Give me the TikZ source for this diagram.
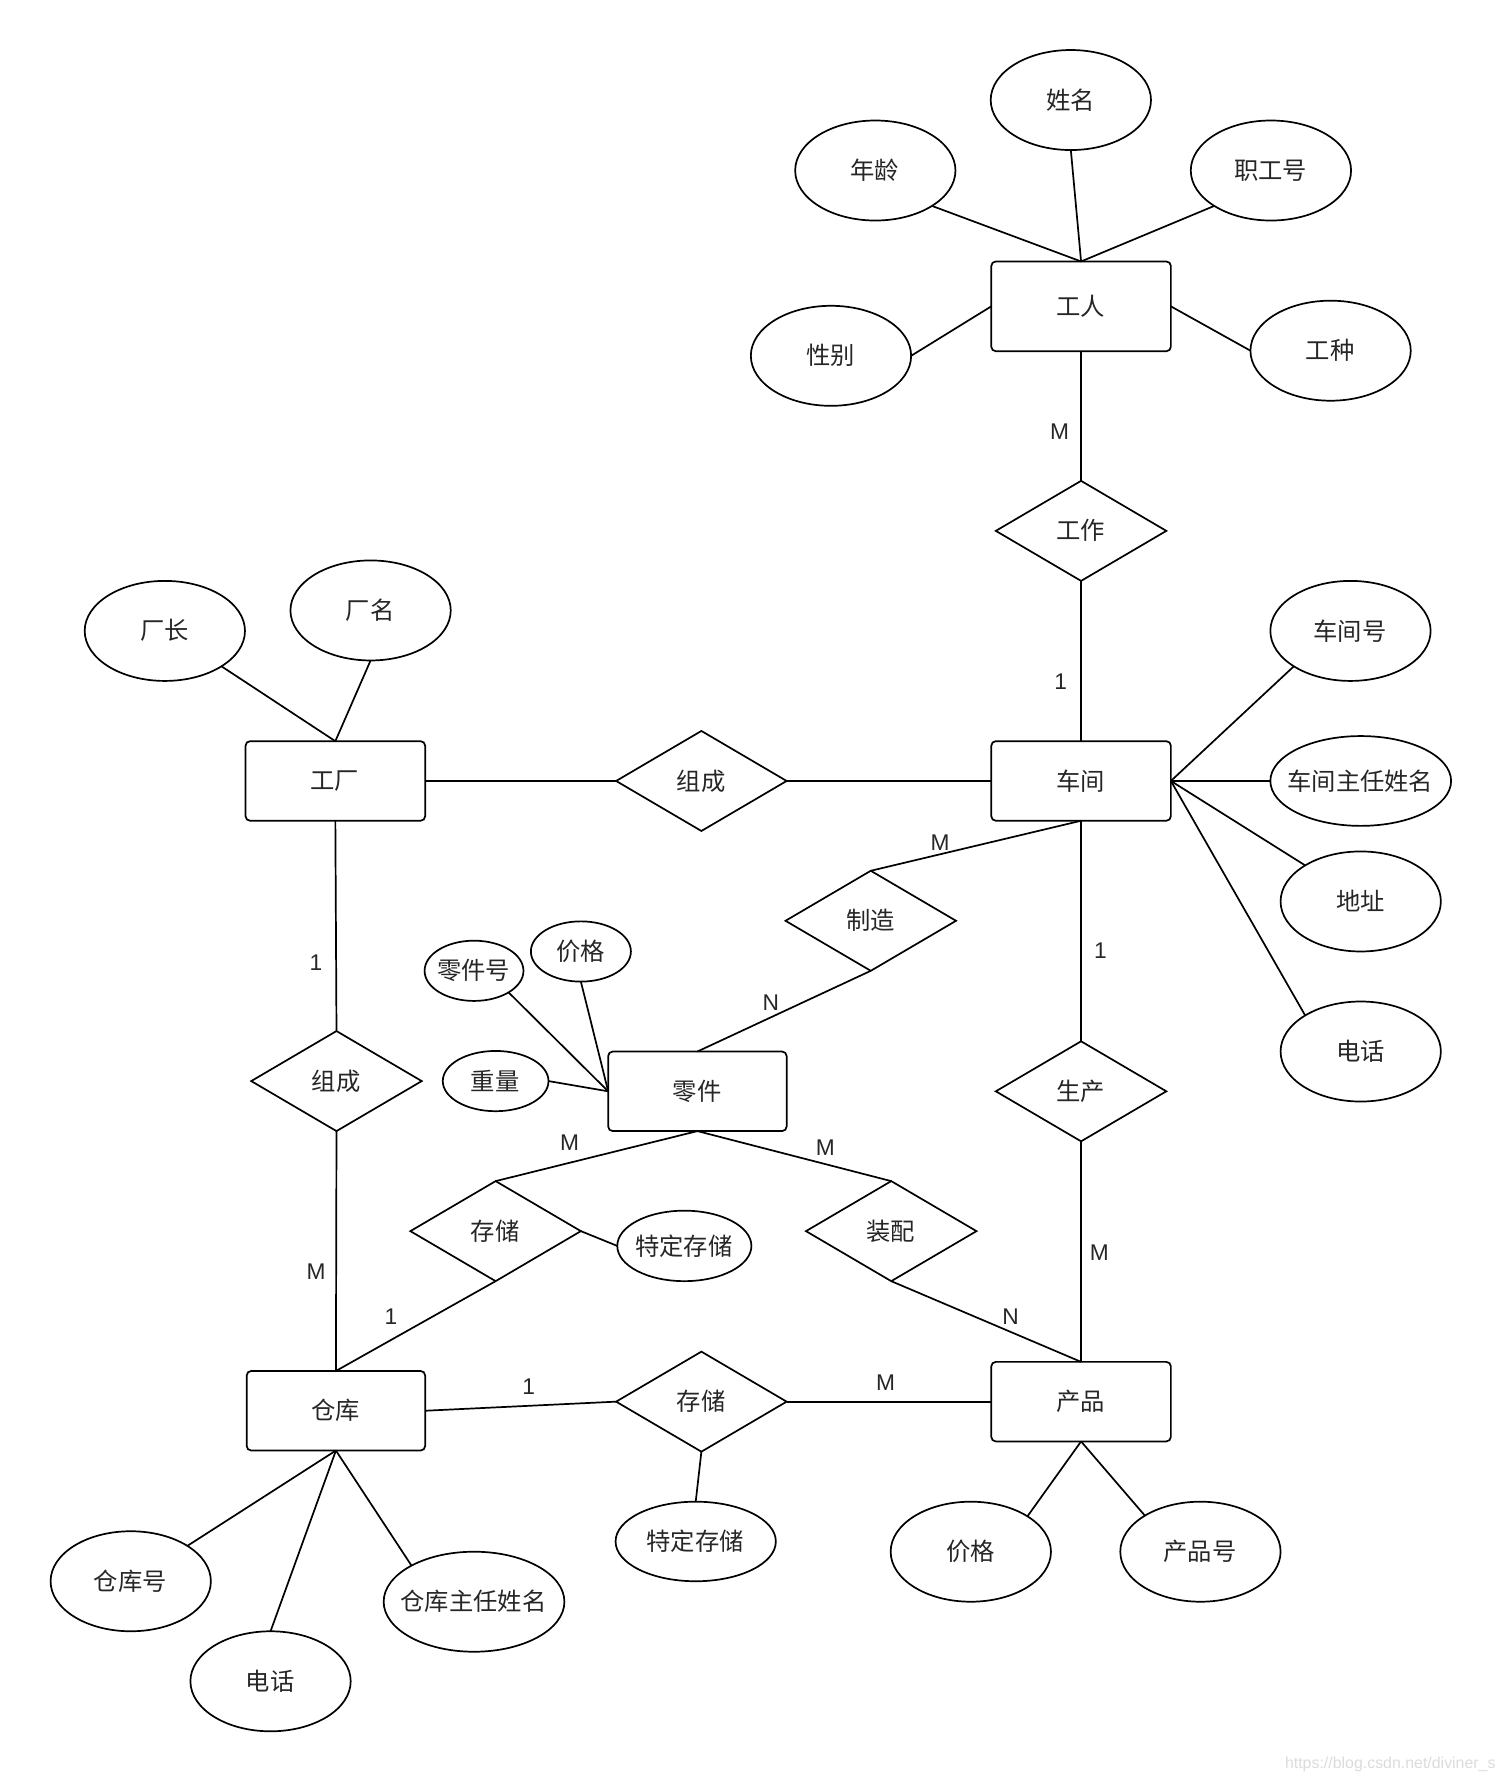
\documentclass[tikz,border=0pt]{standalone}
\usepackage{fontspec}
\setmainfont{Liberation Sans}
\newfontfamily\cjk{Noto Sans CJK SC}
\usetikzlibrary{shapes.geometric}
\newcommand{\tx}[1]{\raisebox{2pt}{\hspace*{-0.7pt}\makebox[0pt]{#1}}}
\tikzset{
  x=1pt,y=-1pt,
  every node/.style={inner sep=0pt,outer sep=0pt},
  lbl/.style={font=\cjk\fontsize{21.4}{25}\selectfont,text=black!85},
  attr/.style={lbl,draw,ellipse,line width=1.5pt,minimum width=141pt,minimum height=88pt},
  ent/.style={lbl,draw,rectangle,rounded corners=4pt,line width=1.5pt,minimum width=158pt,minimum height=70pt},
  rel/.style={lbl,draw,diamond,aspect=1.7,line width=1.5pt,minimum width=150pt,minimum height=88pt},
  card/.style={font=\fontsize{20}{24}\selectfont,text=black!85},
  conn/.style={line width=1.5pt},
}
\begin{document}
\begin{tikzpicture}
\useasboundingbox (0,0) rectangle (1323,1567.6);
% entities
\node[ent,minimum height=79pt] (worker) at (951,269.5) {\tx{工人}};
\node[ent] (shop) at (951,687) {\tx{车间}};
\node[ent] (factory) at (295,687) {\tx{工厂}};
\node[ent,minimum width=157pt] (part) at (613.5,960) {\tx{零件}};
\node[ent,minimum width=157pt] (store) at (295.5,1241) {\tx{仓库}};
\node[ent] (product) at (951,1233) {\tx{产品}};
% relations
\node[rel] (work) at (951,467) {\tx{工作}};
\node[rel] (compose) at (617,687) {\tx{组成}};
\node[rel] (make) at (766,810) {\tx{制造}};
\node[rel] (compose2) at (296,951) {\tx{组成}};
\node[rel] (produce) at (951,960) {\tx{生产}};
\node[rel] (keep) at (436,1083) {\tx{存储}};
\node[rel] (assemble) at (784,1083) {\tx{装配}};
\node[rel] (keep2) at (617,1233) {\tx{存储}};
% attributes
\node[attr] (wname) at (942,88) {\tx{姓名}};
\node[attr] (wage) at (770,150) {\tx{年龄}};
\node[attr] (wid) at (1118,150) {\tx{职工号}};
\node[attr] (wsex) at (731,313) {\tx{性别}};
\node[attr] (wtype) at (1170.5,308.5) {\tx{工种}};
\node[attr] (sid) at (1188,555) {\tx{车间号}};
\node[attr,minimum width=159pt,minimum height=79pt] (shead) at (1197,687) {\tx{车间主任姓名}};
\node[attr] (saddr) at (1197,793) {\tx{地址}};
\node[attr] (stel) at (1197,925) {\tx{电话}};
\node[attr] (fhead) at (145,555) {\tx{厂长}};
\node[attr] (fname) at (326,537) {\tx{厂名}};
\node[attr,minimum width=87pt,minimum height=53pt] (pid) at (417,854) {\tx{零件号}};
\node[attr,minimum width=88pt,minimum height=53pt] (pprice) at (511,837) {\tx{价格}};
\node[attr,minimum width=93pt,minimum height=53pt] (pweight) at (436,951) {\tx{重量}};
\node[attr,minimum width=118pt,minimum height=62pt] (kq) at (602,1096) {\tx{特定存储}};
\node[attr,minimum width=141pt,minimum height=70pt] (kq2) at (612,1356) {\tx{特定存储}};
\node[attr] (dprice) at (854,1365) {\tx{价格}};
\node[attr] (did) at (1056,1365) {\tx{产品号}};
\node[attr] (cid) at (115,1391) {\tx{仓库号}};
\node[attr] (ctel) at (238,1479) {\tx{电话}};
\node[attr,minimum width=159pt] (chead) at (417,1409) {\tx{仓库主任姓名}};
% connectors
\draw[conn] (wage.-32.6) -- (worker.north);
\draw[conn] (wname.south) -- (worker.north);
\draw[conn] (wid.212.6) -- (worker.north);
\draw[conn] (wsex.east) -- (worker.west);
\draw[conn] (worker.east) -- (wtype.west);
\draw[conn] (worker.south) -- (work.north);
\draw[conn] (work.south) -- (shop.north);
\draw[conn] (shop.east) -- (sid.212.6);
\draw[conn] (shop.east) -- (shead.west);
\draw[conn] (shop.east) -- (saddr.147.4);
\draw[conn] (shop.east) -- (stel.147.4);
\draw[conn] (factory.east) -- (compose.west);
\draw[conn] (compose.east) -- (shop.west);
\draw[conn] (fhead.-32.6) -- (factory.north);
\draw[conn] (fname.south) -- (factory.north);
\draw[conn] (factory.south) -- (compose2.north);
\draw[conn] (compose2.south) -- (store.north);
\draw[conn] (shop.south) -- (make.north);
\draw[conn] (make.south) -- (part.north);
\draw[conn] (shop.south) -- (produce.north);
\draw[conn] (produce.south) -- (product.north);
\draw[conn] (pid.-32.8) -- (part.west);
\draw[conn] (pprice.south) -- (part.west);
\draw[conn] (pweight.east) -- (part.west);
\draw[conn] (part.south) -- (keep.north);
\draw[conn] (keep.south) -- (store.north);
\draw[conn] (keep.east) -- (kq.west);
\draw[conn] (part.south) -- (assemble.north);
\draw[conn] (assemble.south) -- (product.north);
\draw[conn] (store.east) -- (keep2.west);
\draw[conn] (keep2.east) -- (product.west);
\draw[conn] (keep2.south) -- (kq2.north);
\draw[conn] (product.south) -- (dprice.32.6);
\draw[conn] (product.south) -- (did.147.4);
\draw[conn] (store.south) -- (cid.32);
\draw[conn] (store.south) -- (ctel.north);
\draw[conn] (store.south) -- (chead.150.7);
% cardinalities
\node[card] (c1) at (932,380) {M};
\node[card] (c2) at (933,600) {1};
\node[card] (c3) at (827,741) {M};
\node[card] (c4) at (968,836) {1};
\node[card] (c5) at (678,882) {N};
\node[card] (c6) at (278,847) {1};
\node[card] (c7) at (501,1005) {M};
\node[card] (c8) at (726,1010) {M};
\node[card] (c9) at (278,1119) {M};
\node[card] (c10) at (344,1158) {1};
\node[card] (c11) at (889,1158) {N};
\node[card] (c12) at (967,1102) {M};
\node[card] (c13) at (465,1220) {1};
\node[card] (c14) at (779,1216) {M};
\node[font=\fontsize{14}{16}\selectfont,text=black!14] (mark) at (1223,1552) {https://blog.csdn.net/diviner\_s};
\end{tikzpicture}
\end{document}
